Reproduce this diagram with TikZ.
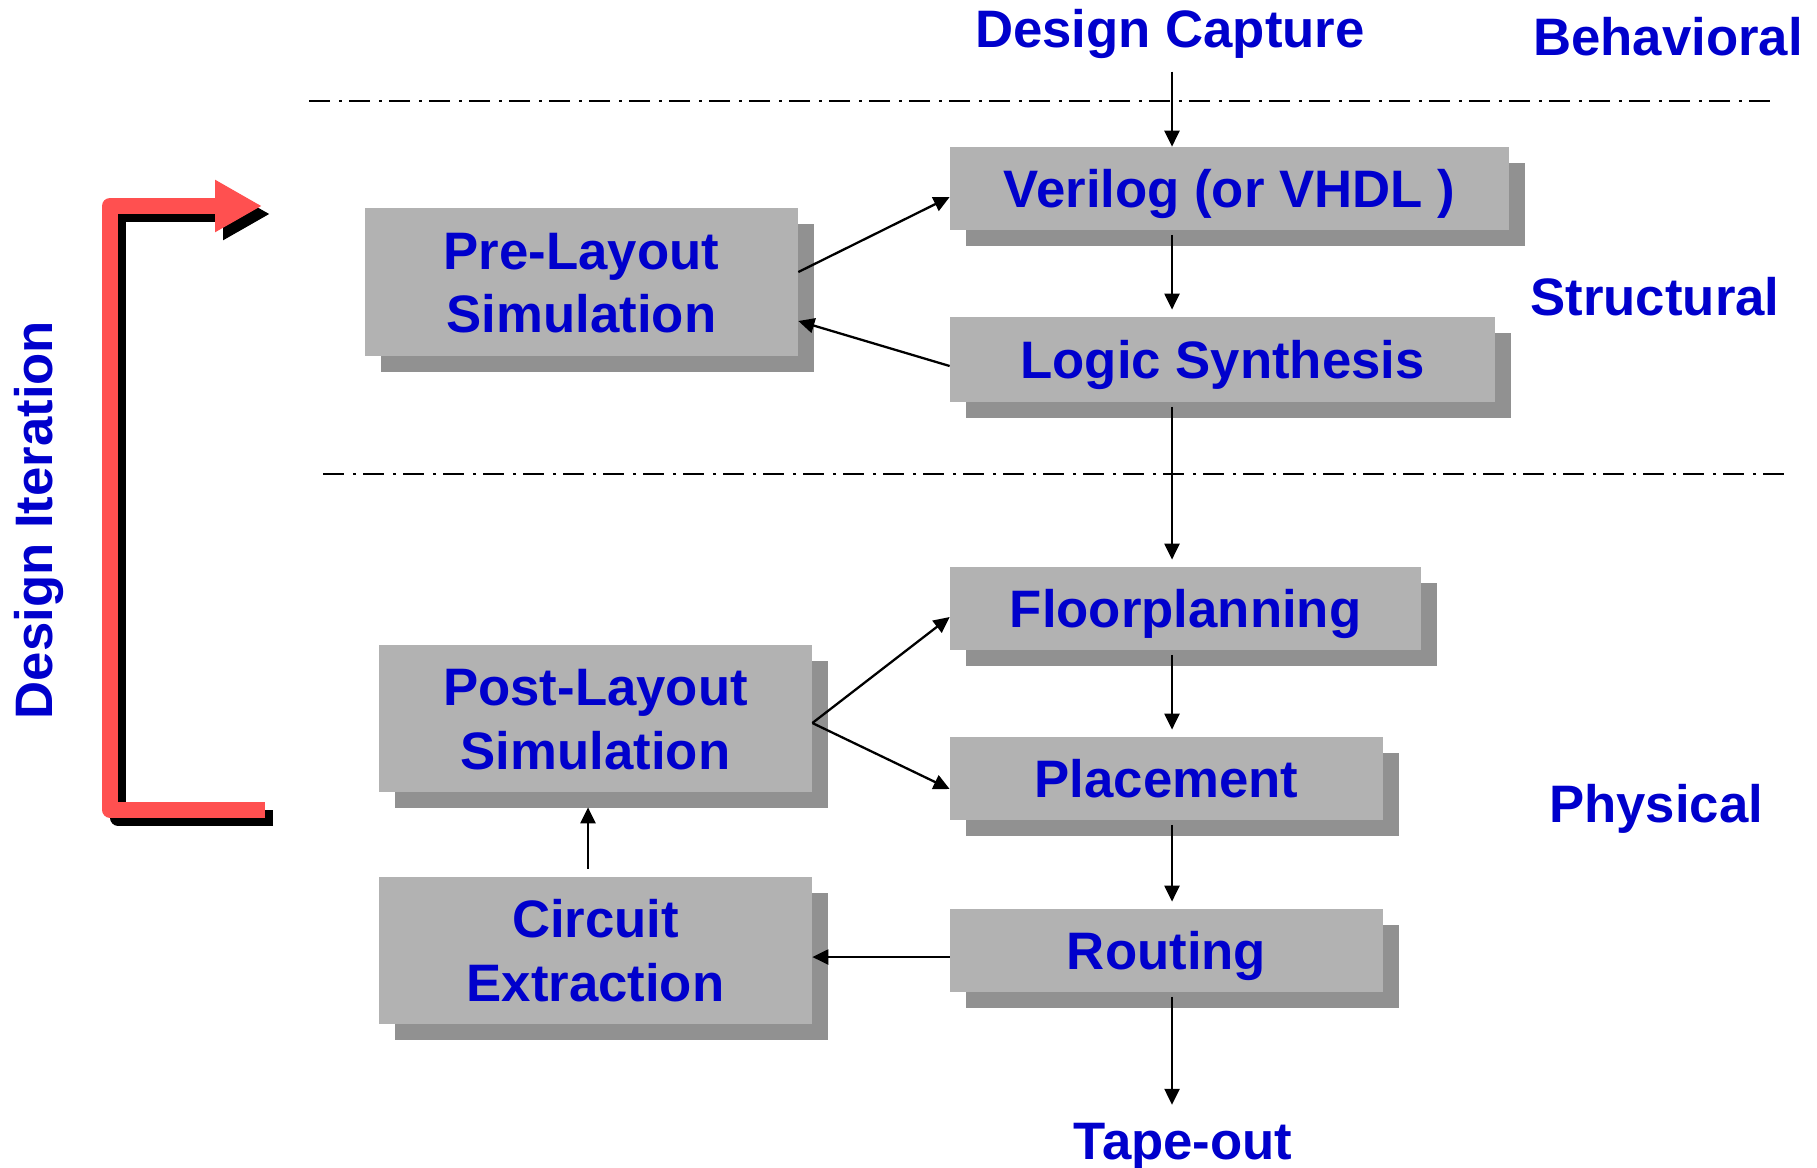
\documentclass[tikz,border=0pt]{standalone}
\usepackage{fontspec}
\setmainfont{Liberation Sans}
\usetikzlibrary{arrows.meta,shadows}
\definecolor{stageblue}{RGB}{0,0,204}
\definecolor{stagegray}{RGB}{178,178,178}
\definecolor{shadegray}{RGB}{145,145,145}
\definecolor{loopred}{RGB}{255,80,80}
\begin{document}
\begin{tikzpicture}[x=0.2cm,y=0.2cm]
				\tikzstyle{every node}+=[font=\fontsize{30}{36}\selectfont\bfseries, text=stageblue]
				\tikzstyle{stage}=[fill=stagegray, inner sep=0pt, align=center, text height=21.5pt, text depth=0pt,
				  drop shadow={shadow xshift=0.32cm, shadow yshift=-0.32cm, fill=shadegray, opacity=1}]
				\tikzstyle{twoline}=[text height=57.5pt]
				\tikzstyle{levelname}=[anchor=base, inner sep=2pt]
				\tikzstyle{flow}=[black, line width=1.3pt, -{Triangle[length=0.32cm,width=0.3cm]}]
				\tikzstyle{spineflow}=[flow, shorten <=2.5pt, shorten >=4pt]
				\tikzstyle{divider}=[black, line width=1.5pt, dash pattern=on 0.42cm off 0.18cm on 0.06cm off 0.14cm]
				\tikzstyle{iterline}=[line width=0.32cm, line join=round, -{Triangle[length=0.94cm,width=0.98cm]}]
				\useasboundingbox (0,0) rectangle (181.7,-116.7);
				% level dividers
				\draw [divider] (30.9,-10.1) -- (177.3,-10.1);
				\draw [divider] (32.3,-47.4) -- (178.5,-47.4);
				% design iteration bracket
				\draw [iterline, black] (27.3,-81.75) -- (11.8,-81.75) -- (11.8,-21.4) -- (27,-21.4);
				\draw [iterline, loopred] (26.5,-80.95) -- (11,-80.95) -- (11,-20.6) -- (26.2,-20.6);
				\node [rotate=90, inner sep=0pt, text height=21.5pt, text depth=0pt] (iter) at (3.4,-52) {Design Iteration};
				% level names
				\node [levelname] (cap) at (117.0,-4.7) {Design Capture};
				\node [levelname] (behav) at (166.8,-5.5) {Behavioral};
				\node [levelname] (struct) at (165.5,-31.5) {Structural};
				\node [levelname] (phys) at (165.6,-82.2) {Physical};
				\node [levelname] (tape) at (118.3,-115.9) {Tape-out};
				% stages
				\node [stage, twoline, minimum width=8.66cm, minimum height=2.96cm] (pre) at (58.15,-28.2) {Pre-Layout\\Simulation};
				\node [stage, minimum width=11.18cm, minimum height=1.66cm] (veri) at (122.95,-18.85) {Verilog (or VHDL )};
				\node [stage, minimum width=10.9cm, minimum height=1.7cm] (synth) at (122.25,-35.95) {Logic Synthesis};
				\node [stage, minimum width=9.42cm, minimum height=1.66cm] (floor) at (118.55,-60.85) {Floorplanning};
				\node [stage, twoline, minimum width=8.66cm, minimum height=2.94cm] (post) at (59.55,-71.85) {Post-Layout\\Simulation};
				\node [stage, minimum width=8.66cm, minimum height=1.66cm] (place) at (116.65,-77.85) {Placement};
				\node [stage, twoline, minimum width=8.66cm, minimum height=2.94cm] (extract) at (59.55,-95.05) {Circuit\\Extraction};
				\node [stage, minimum width=8.66cm, minimum height=1.66cm] (route) at (116.65,-95.05) {Routing};
				% main flow
				\coordinate (spine) at (117.2,0);
				\draw [flow, shorten <=5.5pt] (cap.south -| spine) -- (veri.north -| spine);
				\draw [spineflow] (veri.south -| spine) -- (synth.north -| spine);
				\draw [spineflow] (synth.south -| spine) -- (floor.north -| spine);
				\draw [spineflow] (floor.south -| spine) -- (place.north -| spine);
				\draw [spineflow] (place.south -| spine) -- (route.north -| spine);
				\draw [flow, shorten <=2.5pt, shorten >=8pt] (route.south -| spine) -- (tape.north -| spine);
				% simulation loops
				\draw [flow] ([yshift=0.2cm]pre.east) -- ([yshift=-0.17cm]veri.west);
				\draw [flow] ([yshift=-0.13cm]synth.west) -- ([yshift=-0.78cm]pre.east);
				\draw [flow] ([yshift=-0.09cm]post.east) -- ([yshift=-0.17cm]floor.west);
				\draw [flow] ([yshift=-0.09cm]post.east) -- ([yshift=-0.21cm]place.west);
				\draw [flow, shorten <=0.16cm, shorten >=0.3cm] ([xshift=-0.15cm]extract.north) -- ([xshift=-0.15cm]post.south);
				\draw [flow] ([yshift=-0.13cm]route.west) -- ([yshift=-0.13cm]route.west -| extract.east);
\end{tikzpicture}
\end{document}
